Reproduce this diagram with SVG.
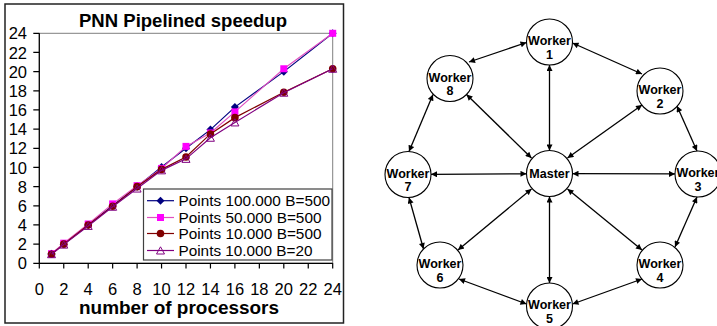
<svg xmlns="http://www.w3.org/2000/svg" width="717" height="326" viewBox="0 0 717 326">
<style>
text{font-family:"Liberation Sans",Arial,sans-serif;fill:#000}
.tk{font-size:16.5px}
.lg{font-size:15.5px}
.ttl{font-size:18px;font-weight:bold}
.nd circle{fill:#fff;stroke:#000;stroke-width:1.1}
.nd text{font-size:12.5px;font-weight:bold;text-anchor:middle}
.cn line{stroke:#000;stroke-width:1.3;marker-start:url(#ah);marker-end:url(#ah)}
.s1{fill:none;stroke:#000080;stroke-width:1.2;marker-start:url(#mDia);marker-mid:url(#mDia);marker-end:url(#mDia)}
.s2{fill:none;stroke:#e050c0;stroke-width:1.2;marker-start:url(#mSq);marker-mid:url(#mSq);marker-end:url(#mSq)}
.s3{fill:none;stroke:#800000;stroke-width:1.2;marker-start:url(#mCi);marker-mid:url(#mCi);marker-end:url(#mCi)}
.s4{fill:none;stroke:#800080;stroke-width:1.2;marker-start:url(#mTr);marker-mid:url(#mTr);marker-end:url(#mTr)}
#legend polyline{marker-start:none;marker-end:none}
</style>
<defs>
<marker id="ah" viewBox="0 0 10 10" refX="10" refY="5" markerWidth="7.5" markerHeight="6" markerUnits="userSpaceOnUse" orient="auto-start-reverse"><path d="M0,0 L10,5 0,10Z" fill="#000"/></marker>
<marker id="mDia" viewBox="0 0 10 10" refX="5" refY="5" markerWidth="10" markerHeight="10" markerUnits="userSpaceOnUse"><path d="M5,1 L9,5 5,9 1,5Z" fill="#000080"/></marker>
<marker id="mSq" viewBox="0 0 10 10" refX="5" refY="5" markerWidth="10" markerHeight="10" markerUnits="userSpaceOnUse"><rect x="1.5" y="1.5" width="7" height="7" fill="#ff00ff"/></marker>
<marker id="mCi" viewBox="0 0 10 10" refX="5" refY="5" markerWidth="10" markerHeight="10" markerUnits="userSpaceOnUse"><circle cx="5" cy="5" r="3.8" fill="#800000"/></marker>
<marker id="mTr" viewBox="0 0 10 10" refX="5" refY="5" markerWidth="10" markerHeight="10" markerUnits="userSpaceOnUse"><path d="M5,1.3 L9,8.5 1,8.5Z" fill="none" stroke="#800080" stroke-width="1"/></marker>
</defs>
<rect width="717" height="326" fill="#fff"/>

<g id="chart">
<rect x="5" y="4" width="338.5" height="319" fill="#fff" stroke="#222" stroke-width="1.5"/>
<text class="ttl" x="183" y="27" text-anchor="middle" textLength="208" lengthAdjust="spacingAndGlyphs">PNN Pipelined speedup</text>
<rect x="39.3" y="33.3" width="293.4" height="230" fill="#fff" stroke="#808080" stroke-width="1"/>
<path d="M39.3,33.3 V263.3 H332.7" fill="none" stroke="#000" stroke-width="1.2"/>
<path d="M33.3,263.3H39.3M33.3,244.13H39.3M33.3,224.97H39.3M33.3,205.8H39.3M33.3,186.64H39.3M33.3,167.47H39.3M33.3,148.3H39.3M33.3,129.14H39.3M33.3,109.97H39.3M33.3,90.8H39.3M33.3,71.64H39.3M33.3,52.47H39.3M33.3,33.3H39.3" stroke="#000" stroke-width="1.2"/>
<path d="M39.3,263.3V268.5M63.75,263.3V268.5M88.2,263.3V268.5M112.65,263.3V268.5M137.1,263.3V268.5M161.55,263.3V268.5M186,263.3V268.5M210.45,263.3V268.5M234.9,263.3V268.5M259.35,263.3V268.5M283.8,263.3V268.5M308.25,263.3V268.5M332.7,263.3V268.5" stroke="#000" stroke-width="1.2"/>
<g class="tk" text-anchor="end">
<text x="27" y="269.3">0</text><text x="27" y="250.1">2</text><text x="27" y="231">4</text><text x="27" y="211.8">6</text><text x="27" y="192.6">8</text><text x="27" y="173.5">10</text><text x="27" y="154.3">12</text><text x="27" y="135.1">14</text><text x="27" y="116">16</text><text x="27" y="96.8">18</text><text x="27" y="77.6">20</text><text x="27" y="58.5">22</text><text x="27" y="39.3">24</text>
</g>
<g class="tk" text-anchor="middle">
<text x="39.3" y="295">0</text><text x="63.75" y="295">2</text><text x="88.2" y="295">4</text><text x="112.65" y="295">6</text><text x="137.1" y="295">8</text><text x="161.55" y="295">10</text><text x="186" y="295">12</text><text x="210.45" y="295">14</text><text x="234.9" y="295">16</text><text x="259.35" y="295">18</text><text x="283.8" y="295">20</text><text x="308.25" y="295">22</text><text x="332.7" y="295">24</text>
</g>
<text class="ttl" x="179" y="313.5" text-anchor="middle" textLength="200" lengthAdjust="spacingAndGlyphs">number of processors</text>
<polyline class="s1" points="51.5,253.72 63.75,244.13 88.2,224.97 112.65,205.8 137.1,186.64 161.55,166.99 186,148.3 210.45,129.62 234.9,107.1 283.8,71.64 332.7,33.3"/>
<polyline class="s2" points="51.5,253.72 63.75,243.18 88.2,224.01 112.65,203.89 137.1,185.68 161.55,168.43 186,146.39 210.45,132.97 234.9,111.89 283.8,68.77 332.7,33.3"/>
<polyline class="s3" points="51.5,254.2 63.75,244.13 88.2,224.97 112.65,206.28 137.1,186.64 161.55,169.39 186,156.93 210.45,133.93 234.9,117.64 283.8,92.24 332.7,68.77"/>
<polyline class="s4" points="51.5,254.2 63.75,244.61 88.2,225.93 112.65,206.76 137.1,188.55 161.55,170.34 186,158.85 210.45,137.76 234.9,122.43 283.8,92.72 332.7,68.77"/>
<g id="legend">
<rect x="143.5" y="189" width="188.5" height="71" fill="#fff" stroke="#404040" stroke-width="1.2"/>
<polyline class="s1" points="147,200.7 160.5,200.7 174,200.7"/>
<polyline class="s2" points="147,217.5 160.5,217.5 174,217.5"/>
<polyline class="s3" points="147,233.5 160.5,233.5 174,233.5"/>
<polyline class="s4" points="147,250.5 160.5,250.5 174,250.5"/>
<text class="lg" x="178.5" y="206.3" textLength="151.5" lengthAdjust="spacingAndGlyphs">Points 100.000 B=500</text>
<text class="lg" x="178.5" y="223.1" textLength="143" lengthAdjust="spacingAndGlyphs">Points 50.000 B=500</text>
<text class="lg" x="178.5" y="239.1" textLength="143" lengthAdjust="spacingAndGlyphs">Points 10.000 B=500</text>
<text class="lg" x="178.5" y="256.1" textLength="134" lengthAdjust="spacingAndGlyphs">Points 10.000 B=20</text>
</g>
</g>

<g id="connectors" class="cn">
<line x1="549.5" y1="150.5" x2="549.5" y2="65"/>
<line x1="567.5" y1="158" x2="642" y2="105"/>
<line x1="572.5" y1="173.7" x2="675" y2="173.9"/>
<line x1="567.5" y1="189" x2="642" y2="250"/>
<line x1="549.5" y1="196.5" x2="549.5" y2="283"/>
<line x1="531.5" y1="189" x2="458" y2="250"/>
<line x1="526.5" y1="173.8" x2="431" y2="174.3"/>
<line x1="531.5" y1="158" x2="466.5" y2="94.5"/>
<line x1="469" y1="62" x2="526.5" y2="42.5"/>
<line x1="572.5" y1="43" x2="642" y2="74"/>
<line x1="677" y1="106" x2="697" y2="151"/>
<line x1="697" y1="197" x2="675" y2="247"/>
<line x1="642" y1="279" x2="572.5" y2="304"/>
<line x1="526.5" y1="304" x2="459" y2="279"/>
<line x1="423.5" y1="249" x2="409" y2="197.5"/>
<line x1="409" y1="151.5" x2="433" y2="94.5"/>
</g>

<g id="master" class="nd"><circle cx="549.5" cy="173.5" r="23"/><text x="549.5" y="177.7">Master</text></g>
<g id="worker1" class="nd"><circle cx="549.5" cy="42" r="23"/><text x="549.5" y="45">Worker</text><text x="549.5" y="58.5">1</text></g>
<g id="worker2" class="nd"><circle cx="660" cy="91" r="23"/><text x="660" y="94">Worker</text><text x="660" y="107.5">2</text></g>
<g id="worker3" class="nd"><circle cx="698" cy="174" r="23"/><text x="698" y="177">Worker</text><text x="698" y="190.5">3</text></g>
<g id="worker4" class="nd"><circle cx="660" cy="265" r="23"/><text x="660" y="268">Worker</text><text x="660" y="281.5">4</text></g>
<g id="worker5" class="nd"><circle cx="549.5" cy="306" r="23"/><text x="549.5" y="309">Worker</text><text x="549.5" y="322.5">5</text></g>
<g id="worker6" class="nd"><circle cx="440" cy="265" r="23"/><text x="440" y="268">Worker</text><text x="440" y="281.5">6</text></g>
<g id="worker7" class="nd"><circle cx="408" cy="174.5" r="23"/><text x="408" y="177.5">Worker</text><text x="408" y="191">7</text></g>
<g id="worker8" class="nd"><circle cx="450" cy="78.5" r="23"/><text x="450" y="81.5">Worker</text><text x="450" y="95">8</text></g>
</svg>
